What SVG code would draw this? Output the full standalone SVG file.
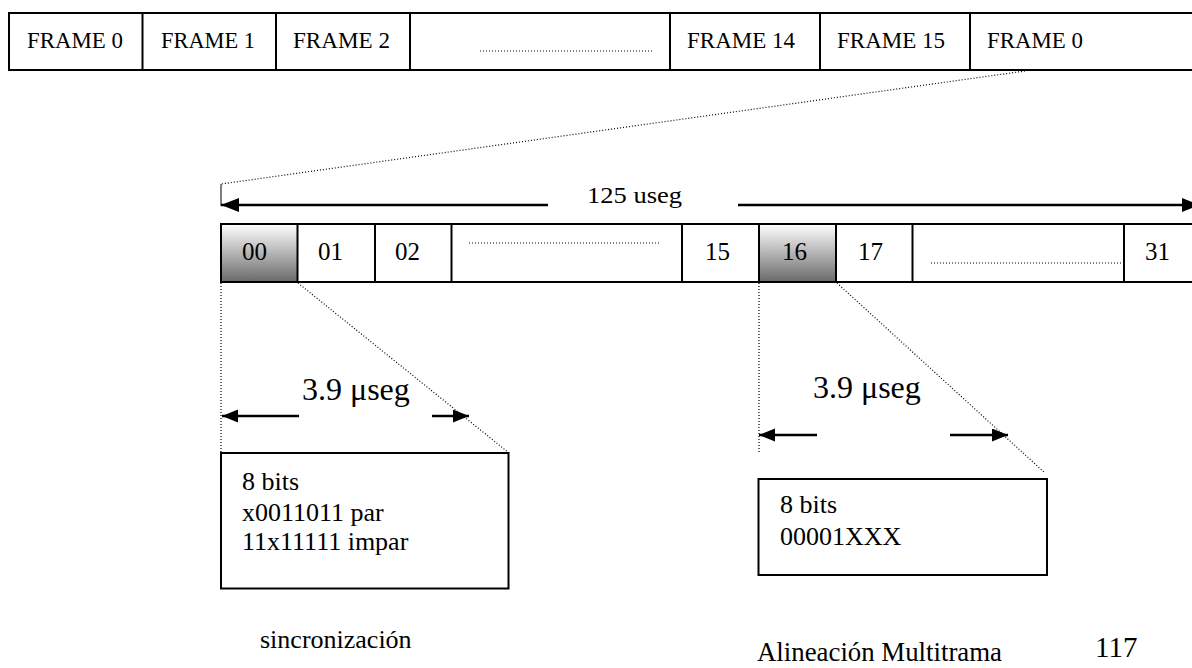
<svg xmlns="http://www.w3.org/2000/svg" width="1192" height="668" viewBox="0 0 1192 668" font-family="'Liberation Serif', 'DejaVu Serif', 'Times New Roman', serif">
<style>
text{font-family:"Liberation Serif","DejaVu Serif","Times New Roman",serif;fill:#000}
.box{fill:#fff;stroke:#000;stroke-width:2}
.div{stroke:#000;stroke-width:2}
.dot{stroke:#000;stroke-width:1.2;stroke-dasharray:1 2;fill:none}
.arr{stroke:#000;stroke-width:2.5;fill:none}
.f24{font-size:24px}
.f25{font-size:25px}
.f26{font-size:26px}
.f32{font-size:32px}
</style>
<defs>
<linearGradient id="g" x1="0" y1="0" x2="0" y2="1">
<stop offset="0" stop-color="#ffffff"/>
<stop offset="1" stop-color="#6a6a6a"/>
</linearGradient>
<marker id="ah" markerUnits="userSpaceOnUse" markerWidth="20" markerHeight="16" refX="18" refY="7" orient="auto">
<path d="M0,0 L18,7 L0,14 z" fill="#000"/>
</marker>
<marker id="ahs" markerUnits="userSpaceOnUse" markerWidth="18" markerHeight="14" refX="16" refY="6.5" orient="auto">
<path d="M0,0 L16,6.5 L0,13 z" fill="#000"/>
</marker>
</defs>

<g id="frames">
<rect class="box" x="9" y="13" width="1200" height="57"/>
<line class="div" x1="142.5" y1="13" x2="142.5" y2="70"/>
<line class="div" x1="276" y1="13" x2="276" y2="70"/>
<line class="div" x1="410" y1="13" x2="410" y2="70"/>
<line class="div" x1="670" y1="13" x2="670" y2="70"/>
<line class="div" x1="820" y1="13" x2="820" y2="70"/>
<line class="div" x1="970" y1="13" x2="970" y2="70"/>
<text class="f24" x="27" y="48" textLength="96" lengthAdjust="spacingAndGlyphs">FRAME 0</text>
<text class="f24" x="161" y="48" textLength="94" lengthAdjust="spacingAndGlyphs">FRAME 1</text>
<text class="f24" x="293" y="48" textLength="97" lengthAdjust="spacingAndGlyphs">FRAME 2</text>
<line class="dot" x1="480" y1="51" x2="653" y2="51"/>
<text class="f24" x="687" y="48" textLength="108" lengthAdjust="spacingAndGlyphs">FRAME 14</text>
<text class="f24" x="837" y="48" textLength="108" lengthAdjust="spacingAndGlyphs">FRAME 15</text>
<text class="f24" x="987" y="48" textLength="96" lengthAdjust="spacingAndGlyphs">FRAME 0</text>
</g>

<g id="timeslots">
<rect class="box" x="221" y="224" width="980" height="58"/>
<rect x="221" y="224" width="76.5" height="58" fill="url(#g)" stroke="#000" stroke-width="2"/>
<rect x="759" y="224" width="77" height="58" fill="url(#g)" stroke="#000" stroke-width="2"/>
<line class="div" x1="375" y1="224" x2="375" y2="282"/>
<line class="div" x1="451.5" y1="224" x2="451.5" y2="282"/>
<line class="div" x1="682" y1="224" x2="682" y2="282"/>
<line class="div" x1="912.5" y1="224" x2="912.5" y2="282"/>
<line class="div" x1="1124" y1="224" x2="1124" y2="282"/>
<text class="f25" x="242" y="260">00</text>
<text class="f25" x="318" y="260">01</text>
<text class="f25" x="395" y="260">02</text>
<line class="dot" x1="469" y1="243" x2="660" y2="243"/>
<text class="f25" x="705" y="260">15</text>
<text class="f25" x="782" y="260">16</text>
<text class="f25" x="858" y="260">17</text>
<line class="dot" x1="931" y1="263" x2="1121" y2="263"/>
<text class="f25" x="1145" y="260">31</text>
</g>

<g id="box-sync">
<rect class="box" x="221" y="453" width="287.5" height="135.5"/>
<text class="f26" x="242" y="490">8 bits</text>
<text class="f26" x="242" y="521">x0011011 par</text>
<text class="f26" x="242" y="550">11x11111 impar</text>
</g>

<g id="box-multi">
<rect class="box" x="758.5" y="479" width="288.5" height="96"/>
<text class="f26" x="780" y="513">8 bits</text>
<text class="f26" x="780" y="545">00001XXX</text>
</g>

<g id="connectors">
<line class="dot" x1="1025" y1="71" x2="221" y2="184"/>
<line x1="221" y1="184" x2="221" y2="206" stroke="#000" stroke-width="1"/>
<line class="arr" x1="548" y1="205" x2="221" y2="205" marker-end="url(#ah)"/>
<line class="arr" x1="738" y1="205" x2="1200" y2="205" marker-end="url(#ah)"/>
<line class="dot" x1="221" y1="283" x2="221" y2="453"/>
<line class="dot" x1="298" y1="283" x2="509" y2="453"/>
<line class="dot" x1="759" y1="283" x2="759" y2="452"/>
<line class="dot" x1="837" y1="283" x2="1045" y2="473"/>
<line class="arr" x1="299" y1="416" x2="222" y2="416" marker-end="url(#ahs)"/>
<line class="arr" x1="432" y1="416" x2="469" y2="416" marker-end="url(#ahs)"/>
<line class="arr" x1="817" y1="435" x2="759" y2="435" marker-end="url(#ahs)"/>
<line class="arr" x1="950" y1="435" x2="1008" y2="435" marker-end="url(#ahs)"/>
</g>

<g id="labels">
<text class="f24" x="587" y="203" textLength="95" lengthAdjust="spacingAndGlyphs">125 useg</text>
<text class="f32" x="302" y="400">3.9 μseg</text>
<text class="f32" x="813" y="398">3.9 μseg</text>
<text class="f26" x="260" y="648">sincronización</text>
<text x="757" y="661" font-size="27" textLength="245" lengthAdjust="spacingAndGlyphs">Alineación Multitrama</text>
<text x="1095" y="657" font-size="29">117</text>
</g>
</svg>
